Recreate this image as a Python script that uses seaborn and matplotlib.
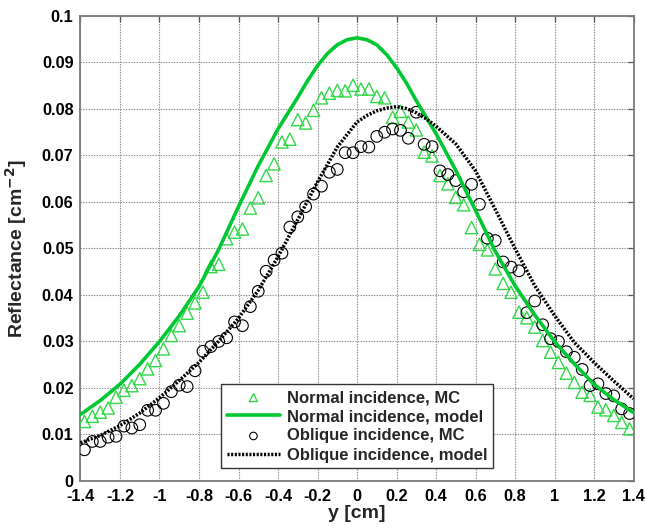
import numpy as np
import pandas as pd
import matplotlib
matplotlib.use("Agg")
import matplotlib.pyplot as plt
from matplotlib.ticker import FuncFormatter, MultipleLocator
import seaborn as sns

# ---------------- data ----------------
y_mc = np.round(np.arange(-1.38, 1.381, 0.04), 2)   # MC sample positions [cm]

normal_mc = [
    0.0128, 0.0139, 0.0148, 0.0157, 0.0180, 0.0195, 0.0205, 0.0220, 0.0241, 0.0259,
    0.0284, 0.0313, 0.0334, 0.0361, 0.0383, 0.0406, 0.0461, 0.0466, 0.0521, 0.0535,
    0.0542, 0.0587, 0.0609, 0.0657, 0.0682, 0.0729, 0.0735, 0.0777, 0.0770, 0.0797,
    0.0824, 0.0834, 0.0840, 0.0839, 0.0851,
    0.0843, 0.0843, 0.0827, 0.0824, 0.0782, 0.0795, 0.0772, 0.0755, 0.0707, 0.0699,
    0.0657, 0.0639, 0.0610, 0.0594, 0.0545, 0.0509, 0.0497, 0.0456, 0.0425, 0.0406,
    0.0363, 0.0351, 0.0331, 0.0302, 0.0277, 0.0255, 0.0232, 0.0212, 0.0191, 0.0184,
    0.0159, 0.0153, 0.0141, 0.0126, 0.0112,
]

oblique_mc = [
    0.0067, 0.0085, 0.0085, 0.0094, 0.0096, 0.0118, 0.0114, 0.0121, 0.0152, 0.0152,
    0.0167, 0.0192, 0.0206, 0.0203, 0.0237, 0.0279, 0.0289, 0.0300, 0.0308, 0.0342,
    0.0334, 0.0375, 0.0408, 0.0451, 0.0475, 0.0490, 0.0546, 0.0568, 0.0590, 0.0617,
    0.0634, 0.0664, 0.0670, 0.0706, 0.0706,
    0.0719, 0.0718, 0.0741, 0.0750, 0.0757, 0.0754, 0.0737, 0.0793, 0.0724, 0.0719,
    0.0667, 0.0659, 0.0646, 0.0622, 0.0638, 0.0595, 0.0522, 0.0517, 0.0471, 0.0460,
    0.0452, 0.0362, 0.0387, 0.0336, 0.0306, 0.0300, 0.0278, 0.0266, 0.0240, 0.0205,
    0.0209, 0.0188, 0.0183, 0.0155, 0.0145,
]

y_normal_model = [-1.4, -1.3, -1.2, -1.1, -1.0, -0.9, -0.8, -0.7, -0.6, -0.5, -0.4,
                  -0.3, -0.25, -0.2, -0.15, -0.1, -0.05, 0.0, 0.05, 0.1, 0.15, 0.2,
                  0.25, 0.3, 0.4, 0.5, 0.6, 0.7, 0.8, 0.9, 1.0, 1.1, 1.2, 1.3, 1.4]
normal_model = [0.0143, 0.0173, 0.0208, 0.0251, 0.0300, 0.0355, 0.0418, 0.0498, 0.0590,
                0.0678, 0.0757, 0.0825, 0.0861, 0.0893, 0.0919, 0.0938, 0.0949, 0.0953,
                0.0949, 0.0938, 0.0917, 0.0889, 0.0856, 0.0818, 0.0747, 0.0668, 0.0582,
                0.0494, 0.0420, 0.0357, 0.0300, 0.0252, 0.0208, 0.0175, 0.0147]

y_oblique_model = [-1.4, -1.3, -1.2, -1.1, -1.0, -0.9, -0.8, -0.7, -0.6, -0.5, -0.4,
                   -0.3, -0.2, -0.1, 0.0, 0.05, 0.1, 0.15, 0.2, 0.25, 0.3, 0.35, 0.4,
                   0.5, 0.6, 0.7, 0.8, 0.9, 1.0, 1.1, 1.2, 1.3, 1.4]
oblique_model = [0.0082, 0.0098, 0.0119, 0.0146, 0.0179, 0.0216, 0.0255, 0.0301, 0.0350,
                 0.0410, 0.0482, 0.0562, 0.0643, 0.0718, 0.0772, 0.0786, 0.0796, 0.0802,
                 0.0805, 0.0801, 0.0792, 0.0779, 0.0763, 0.0725, 0.0667, 0.0584, 0.0500,
                 0.0420, 0.0356, 0.0298, 0.0255, 0.0215, 0.0177]

labels = ["Normal incidence, MC", "Normal incidence, model",
          "Oblique incidence, MC", "Oblique incidence, model"]

# ---------------- style ----------------
sns.set_theme(style="white")
plt.rcParams["font.family"] = ["Liberation Sans", "DejaVu Sans"]
plt.rcParams["font.weight"] = "bold"
plt.rcParams["axes.labelweight"] = "bold"
plt.rcParams["axes.unicode_minus"] = False
plt.rcParams["mathtext.default"] = "bf"

GREEN_LINE = "#00c832"
GREEN_MARK = "#33d84a"

fig = plt.figure(figsize=(6.45, 5.31), dpi=100)
ax = fig.add_axes([0.1248, 0.0942, 0.8574, 0.8757])

sns.scatterplot(x=y_mc, y=normal_mc, ax=ax, marker="^", s=78, color=GREEN_MARK,
                facecolor="none", edgecolor=GREEN_MARK, linewidth=1.0,
                label=labels[0], zorder=3)
sns.lineplot(x=y_normal_model, y=normal_model, ax=ax, color=GREEN_LINE,
             linewidth=2.6, label=labels[1], zorder=4, sort=False)
sns.scatterplot(x=y_mc, y=oblique_mc, ax=ax, marker="o", s=70, color="black",
                facecolor="none", edgecolor="black", linewidth=0.8,
                label=labels[2], zorder=3)
sns.lineplot(x=y_oblique_model, y=oblique_model, ax=ax, color="black",
             linewidth=2.5, linestyle=(0, (0.6, 0.45)), label=labels[3],
             zorder=4, sort=False)

ax.set_xlim(-1.4, 1.4)
ax.set_ylim(0, 0.1)
ax.xaxis.set_major_locator(MultipleLocator(0.2))
ax.yaxis.set_major_locator(MultipleLocator(0.01))
fmt = FuncFormatter(lambda v, p: "%g" % round(v, 4))
ax.xaxis.set_major_formatter(fmt)
ax.yaxis.set_major_formatter(fmt)

ax.grid(True, linestyle=(0, (1.2, 1.2)), color="#8a8a8a", linewidth=0.8)
ax.set_axisbelow(True)
for sp in ax.spines.values():
    sp.set_color("#7a7a7a")
    sp.set_linewidth(1.3)
    sp.set_visible(True)
ax.tick_params(direction="in", length=4, width=0.9, color="#555555",
               top=True, right=True, labelsize=11.7, labelcolor="black")
ax.tick_params(axis="x", pad=6)
ax.tick_params(axis="y", pad=5)
for t in ax.get_xticklabels() + ax.get_yticklabels():
    t.set_fontweight("bold")

ax.set_xlabel("y [cm]", fontsize=14, fontweight="bold", labelpad=0.5)
ax.set_ylabel("Reflectance [cm$^{\\mathbf{-2}}$]", fontsize=14, fontweight="bold", labelpad=9)

leg = ax.legend(loc="lower center", bbox_to_anchor=(0.5, 0.02), fontsize=12,
                prop={"weight": "bold", "size": 12}, frameon=True, fancybox=False,
                framealpha=1, edgecolor="#333333", borderpad=0.35,
                labelspacing=0.25, handlelength=3.2, handletextpad=0.4,
                markerscale=0.65, borderaxespad=0.2)
leg.get_frame().set_linewidth(1.0)

fig.savefig("out.png", dpi=100)
